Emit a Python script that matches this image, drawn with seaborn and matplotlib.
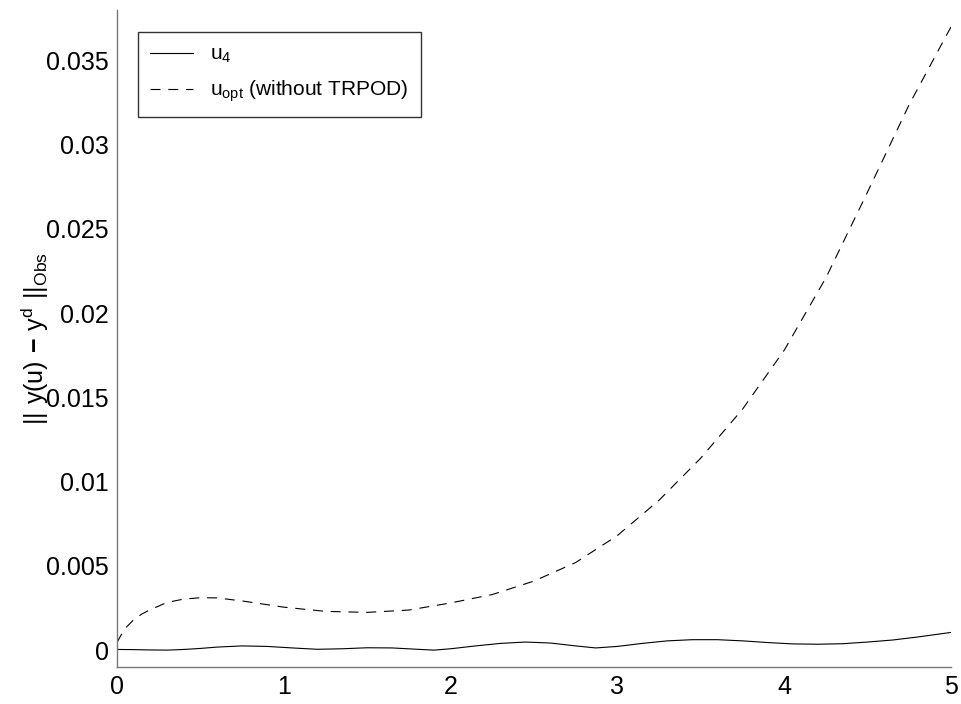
import numpy as np
import pandas as pd
import matplotlib
matplotlib.use("Agg")
import matplotlib.pyplot as plt
import seaborn as sns

# u_opt (without TRPOD) - dashed
t_opt = [0.0, 0.025, 0.05, 0.1, 0.15, 0.2, 0.3, 0.4, 0.5, 0.6, 0.75, 1.0, 1.25, 1.5, 1.75,
         2.0, 2.25, 2.5, 2.75, 3.0, 3.25, 3.5, 3.75, 4.0, 4.25, 4.5, 4.75, 5.0]
e_opt = [0.00045, 0.0009, 0.0013, 0.0018, 0.00215, 0.0024, 0.00283, 0.00303, 0.00311,
         0.0031, 0.00292, 0.00255, 0.0023, 0.00224, 0.00238, 0.0028, 0.0033, 0.0041,
         0.0052, 0.0068, 0.0089, 0.0114, 0.0143, 0.0178, 0.0221, 0.0272, 0.0324, 0.0370]

# u_4 - solid
t_u4 = [0.0, 0.1, 0.2, 0.3, 0.4, 0.5, 0.6, 0.75, 0.9, 1.05, 1.2, 1.35, 1.5, 1.65, 1.8, 1.9,
        2.0, 2.15, 2.3, 2.45, 2.6, 2.75, 2.87, 3.0, 3.15, 3.3, 3.45, 3.6, 3.75, 3.9, 4.05,
        4.2, 4.35, 4.5, 4.65, 4.8, 5.0]
e_u4 = [0.00004, 0.00003, 0.00001, 0.0, 0.00004, 0.0001, 0.00018, 0.00025, 0.00022,
        0.00013, 0.00005, 0.00008, 0.00014, 0.00013, 0.00005, 0.0, 0.00008, 0.00025,
        0.0004, 0.00048, 0.00042, 0.00025, 0.00013, 0.00022, 0.0004, 0.00055, 0.00062,
        0.00062, 0.00055, 0.00045, 0.00037, 0.00035, 0.00038, 0.00048, 0.0006, 0.00078,
        0.00105]

xticks = [0, 1, 2, 3, 4, 5]
yticks = [0, 0.005, 0.01, 0.015, 0.02, 0.025, 0.03, 0.035]
ytick_labels = ["0", "0.005", "0.01", "0.015", "0.02", "0.025", "0.03", "0.035"]

sns.set_style("white")
plt.rcParams['font.family'] = ['Liberation Sans', 'DejaVu Sans']
plt.rcParams['mathtext.fontset'] = 'custom'
plt.rcParams['mathtext.rm'] = 'Liberation Sans'
plt.rcParams['mathtext.bf'] = 'Liberation Sans:bold'
plt.rcParams['text.color'] = 'black'
plt.rcParams['axes.labelcolor'] = 'black'

fig = plt.figure(figsize=(9.61, 7.04), dpi=100)
ax = fig.add_axes([0.1217, 0.0526, 0.8679, 0.9332])

df_u4 = pd.DataFrame({"t": t_u4, "e": e_u4})
df_opt = pd.DataFrame({"t": t_opt, "e": e_opt})

sns.lineplot(data=df_u4, x="t", y="e", ax=ax, color="black", linewidth=0.8,
             label=r"$\mathregular{u_{4}}$")
sns.lineplot(data=df_opt, x="t", y="e", ax=ax, color="black", linewidth=0.8,
             linestyle=(0, (9, 7)), label=r"$\mathregular{u_{opt}}$ (without TRPOD)")

ax.set_xlim(0, 5)
ax.set_ylim(-0.001, 0.038)
ax.set_xticks(xticks)
ax.set_xticklabels([str(v) for v in xticks])
ax.set_yticks(yticks)
ax.set_yticklabels(ytick_labels)

for side in ["top", "right"]:
    ax.spines[side].set_visible(False)
for side in ["left", "bottom"]:
    ax.spines[side].set_color("#777777")
    ax.spines[side].set_linewidth(1.0)

ax.tick_params(axis="both", direction="in", length=8, width=1.0, color="#777777",
               labelsize=18, labelcolor="black", pad=6)

ax.set_xlabel("")
ax.set_ylabel(r"$\mathregular{||\ y(u)\ \mathbf{-}\ y^{d}\ ||_{Obs}}$", fontsize=18)
ax.yaxis.set_label_coords(-0.079, 0.5)

leg = ax.legend(loc="upper left", bbox_to_anchor=(0.025, 0.966), borderaxespad=0,
                fontsize=15, frameon=True, fancybox=False, handlelength=2.07,
                handletextpad=0.8, borderpad=0.6, labelspacing=0.65)
leg.get_frame().set_edgecolor("black")
leg.get_frame().set_linewidth(1.0)
for txt in leg.get_texts():
    txt.set_color("black")

fig.savefig("out.png", dpi=100)
